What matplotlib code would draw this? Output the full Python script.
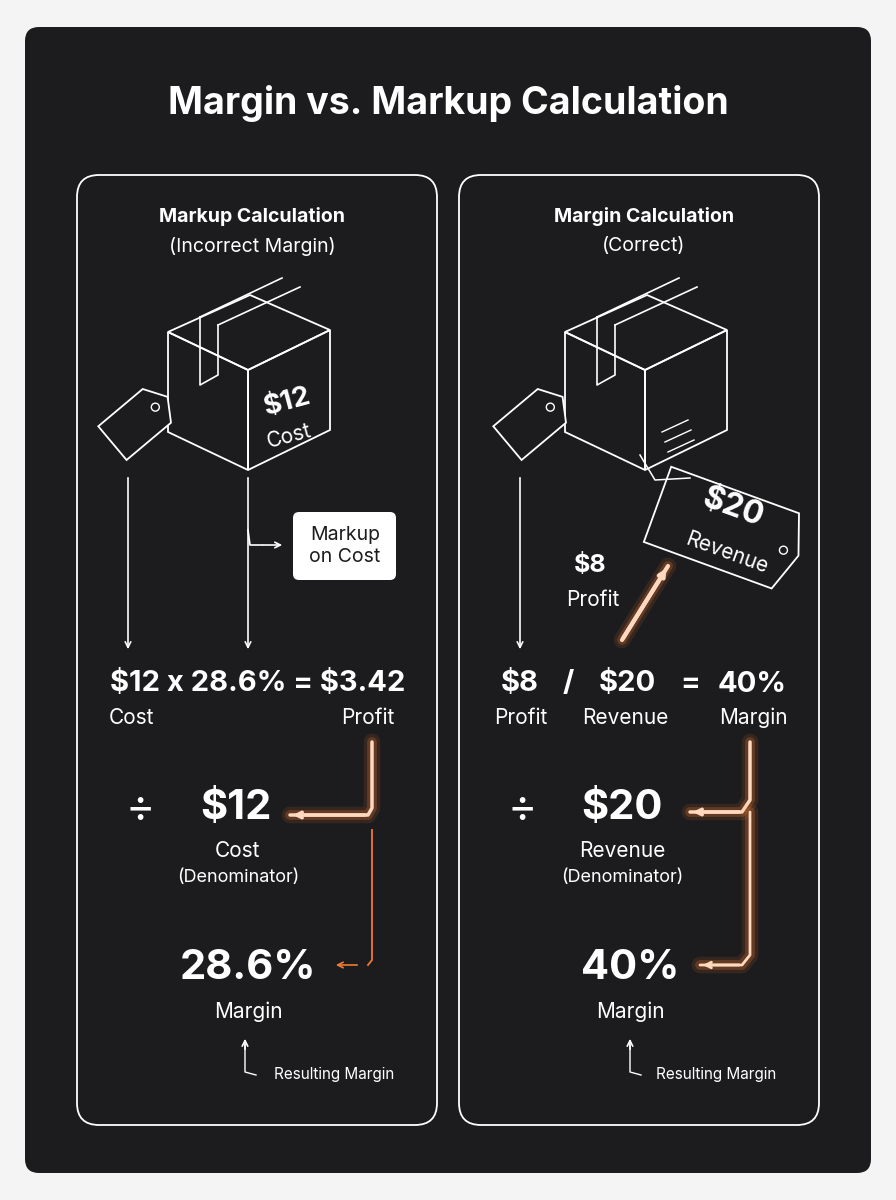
import matplotlib
matplotlib.use("Agg")
import matplotlib.pyplot as plt
from matplotlib.patches import FancyBboxPatch, Polygon, Circle
from matplotlib.transforms import Affine2D

plt.rcParams["font.family"] = ["Inter", "DejaVu Sans"]
plt.rcParams["text.parse_math"] = False

BG, PANEL, ORANGE, WHITE = "#f4f4f4", "#1c1c1e", "#f07a30", "white"

title = "Margin vs. Markup Calculation"
panel_titles = ["Markup Calculation", "Margin Calculation"]
panel_subs = ["(Incorrect Margin)", "(Correct)"]
cost, revenue, profit_wrong, profit = 12, 20, 3.42, 8
markup_pct, margin_wrong, margin_right = 28.6, 28.6, 40

fig = plt.figure(figsize=(8.96, 12), dpi=100, facecolor=BG)
ax = fig.add_axes([0, 0, 1, 1])
ax.set_xlim(0, 896); ax.set_ylim(1200, 0); ax.axis("off")

ax.add_patch(FancyBboxPatch((25, 27), 846, 1146, boxstyle="round,pad=0,rounding_size=14", fc=PANEL, ec="none"))
ax.text(448, 103, title, color=WHITE, fontsize=27, fontweight="bold", ha="center", va="center")
for x0 in (77, 459):
    ax.add_patch(FancyBboxPatch((x0, 175), 360, 950, boxstyle="round,pad=0,rounding_size=22", fc="none", ec=WHITE, lw=1.3))
for cx, t, s in zip((252, 644), panel_titles, panel_subs):
    ax.text(cx, 216, t, color=WHITE, fontsize=14, fontweight="bold", ha="center", va="center")
    ax.text(cx, 246, s, color=WHITE, fontsize=14, ha="center", va="center")


def cube(dx):
    kw = dict(fc="none", ec=WHITE, lw=1.3)
    ax.add_patch(Polygon([(168 + dx, 332), (248 + dx, 370), (330 + dx, 330), (250 + dx, 295)], closed=True, **kw))
    ax.add_patch(Polygon([(168 + dx, 332), (248 + dx, 370), (248 + dx, 470), (168 + dx, 432)], closed=True, **kw))
    ax.add_patch(Polygon([(248 + dx, 370), (330 + dx, 330), (330 + dx, 430), (248 + dx, 470)], closed=True, **kw))
    ax.plot([200 + dx, 282 + dx], [317, 278], color=WHITE, lw=1.2)
    ax.plot([218 + dx, 300 + dx], [325, 287], color=WHITE, lw=1.2)
    ax.plot([200 + dx, 200 + dx, 218 + dx, 218 + dx], [317, 385, 375, 325], color=WHITE, lw=1.2)


def tag(cx, cy, w, h, ang):
    tr = Affine2D().rotate_deg(ang).translate(cx, cy)
    pts = [(-w / 2, -h / 2), (w / 2 - 14, -h / 2), (w / 2, 0), (w / 2 - 14, h / 2), (-w / 2, h / 2)]
    ax.add_patch(Polygon(tr.transform(pts), closed=True, fc=PANEL, ec=WHITE, lw=1.3))
    hx, hy = tr.transform((w / 2 - 16, 0))
    ax.add_patch(Circle((hx, hy), 4, fc="none", ec=WHITE, lw=1))


def arrow(p0, p1, color=WHITE, lw=1.2):
    ax.annotate("", xy=p1, xytext=p0, arrowprops=dict(arrowstyle="->", color=color, lw=lw))


def glow_path(xs, ys, lw=2.5):
    for w, a in ((12, 0.12), (7, 0.25)):
        ax.plot(xs, ys, color=ORANGE, lw=w, alpha=a, solid_capstyle="round")
    ax.plot(xs, ys, color="#ffd9bf", lw=lw, solid_capstyle="round")
    arrow((xs[-2], ys[-2]), (xs[-1], ys[-1]), color="#ffd9bf", lw=lw)


big = dict(color=WHITE, fontsize=21, fontweight="bold", ha="center", va="center")
mid = dict(color=WHITE, fontsize=15, ha="center", va="center")
huge = dict(color=WHITE, fontsize=30, fontweight="bold", ha="center", va="center")

# ---- left panel ----
cube(0)
tag(140, 420, 72, 44, -40)
ax.text(287, 402, f"${cost}", color=WHITE, fontsize=20, fontweight="bold", ha="center", va="center", rotation=15)
ax.text(289, 436, "Cost", color=WHITE, fontsize=15, ha="center", va="center", rotation=15)
arrow((128, 475), (128, 652)); arrow((248, 475), (248, 652))
ax.plot([248, 250, 262], [530, 545, 545], color=WHITE, lw=1.2)
arrow((260, 545), (285, 545))
ax.add_patch(FancyBboxPatch((293, 512), 103, 68, boxstyle="round,pad=0,rounding_size=6", fc=WHITE, ec="none"))
ax.text(345, 546, "Markup\non Cost", color="#1c1c1e", fontsize=14, ha="center", va="center", linespacing=1.3)
ax.text(258, 684, f"${cost} x {markup_pct}% = ${profit_wrong}", **big)
ax.text(131, 718, "Cost", **mid); ax.text(368, 718, "Profit", **mid)
glow_path([372, 372, 368, 290], [742, 808, 815, 815])
ax.plot([372, 372, 368], [830, 960, 965], color=ORANGE, lw=1.3)
arrow((360, 965), (333, 965), color=ORANGE)
ax.text(140, 810, "÷", color=WHITE, fontsize=32, ha="center", va="center")
ax.text(236, 808, f"${cost}", **huge)
ax.text(238, 851, "Cost", **mid)
ax.text(238, 877, "(Denominator)", color=WHITE, fontsize=13, ha="center", va="center")
ax.text(248, 968, f"{margin_wrong}%", **huge)
ax.text(248, 1012, "Margin", **mid)
ax.plot([245, 245, 256], [1045, 1072, 1075], color=WHITE, lw=1)
arrow((245, 1052), (245, 1036))
ax.text(334, 1074, "Resulting Margin", color=WHITE, fontsize=11, ha="center", va="center")

# ---- right panel ----
cube(397)
for i in range(3):
    ax.plot([662 + 3 * i, 688 + 3 * i], [432 + 10 * i, 420 + 10 * i], color=WHITE, lw=1)
tag(535, 420, 72, 44, -40)
ax.plot([640, 655, 690], [455, 480, 478], color=WHITE, lw=1.1)
tag(728, 530, 150, 80, 20)
ax.text(733, 508, f"${revenue}", color=WHITE, fontsize=23, fontweight="bold", ha="center", va="center", rotation=-20)
ax.text(727, 553, "Revenue", color=WHITE, fontsize=15, ha="center", va="center", rotation=-20)
arrow((520, 475), (520, 652))
ax.text(590, 565, f"${profit}", color=WHITE, fontsize=18, fontweight="bold", ha="center", va="center")
ax.text(593, 600, "Profit", **mid)
glow_path([622, 668], [640, 566], lw=3)
for x, s in zip((520, 568, 627, 690, 752), (f"${profit}", "/", f"${revenue}", "=", f"{margin_right}%")):
    ax.text(x, 684, s, **big)
ax.text(521, 718, "Profit", **mid); ax.text(625, 718, "Revenue", **mid); ax.text(753, 718, "Margin", **mid)
glow_path([750, 750, 742, 690], [742, 800, 812, 812])
glow_path([750, 750, 742, 700], [812, 955, 965, 965], lw=2)
ax.text(522, 810, "÷", color=WHITE, fontsize=32, ha="center", va="center")
ax.text(622, 808, f"${revenue}", **huge)
ax.text(622, 851, "Revenue", **mid)
ax.text(622, 877, "(Denominator)", color=WHITE, fontsize=13, ha="center", va="center")
ax.text(630, 968, f"{margin_right}%", **huge)
ax.text(630, 1012, "Margin", **mid)
ax.plot([630, 630, 641], [1045, 1072, 1075], color=WHITE, lw=1)
arrow((630, 1052), (630, 1036))
ax.text(716, 1074, "Resulting Margin", color=WHITE, fontsize=11, ha="center", va="center")

fig.savefig("out.png", dpi=100, facecolor=BG)
